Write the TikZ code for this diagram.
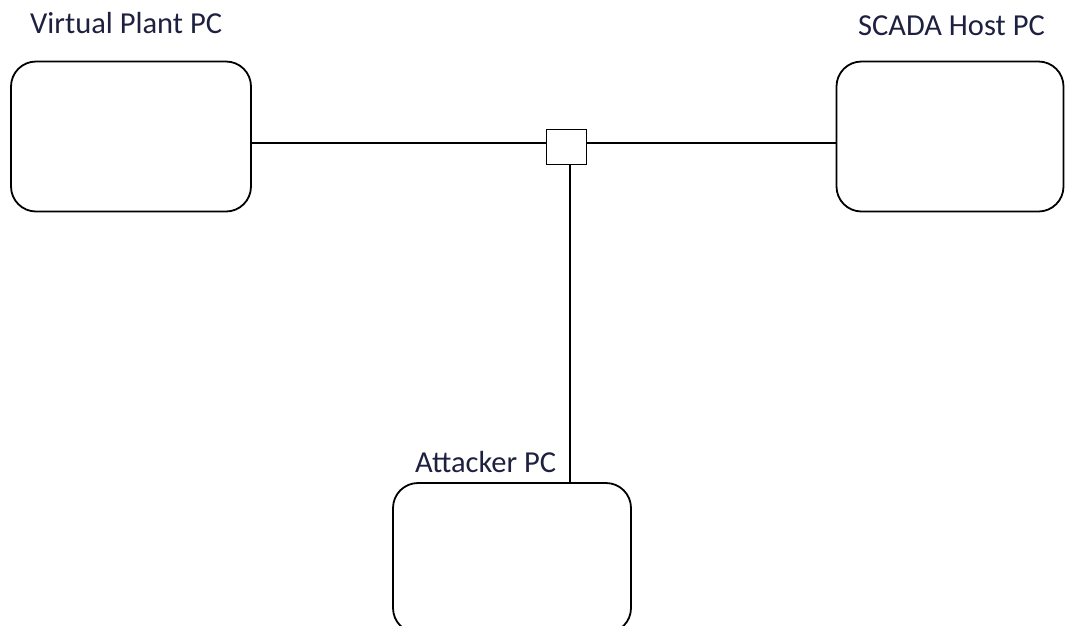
\documentclass[tikz,border=0pt]{standalone}
\usepackage{fontspec}
\setmainfont{Carlito}
\definecolor{txt}{HTML}{1E2040}
\begin{document}
\begin{tikzpicture}[x=1pt,y=-1pt,
  pcbox/.style={draw=black,line width=1.8pt,rounded corners=25pt,minimum width=#1,minimum height=150pt,inner sep=0pt},
  hubbox/.style={draw=black,line width=1.8pt,minimum width=40pt,minimum height=35pt,inner sep=0pt},
  lbl/.style={anchor=base west,inner sep=0pt,text=txt,font=\fontsize{30.5}{36}\selectfont},
  wire/.style={line width=1.8pt}]
\useasboundingbox (0,0) rectangle (1065,625);
\begin{scope}
\clip (0,0) rectangle (1065,625);
\node[pcbox=240pt] (vp) at (131,136.5) {};
\node[pcbox=227pt] (sc) at (950,136.5) {};
\node[pcbox=238pt] (att) at (512,558) {};
\node[hubbox] (sw) at (566.5,147) {};
\coordinate (busy) at (0,143);
\coordinate (vx) at (570,0);
\draw[wire] (vp.east |- busy) -- (sw.west |- busy);
\draw[wire] (sw.east |- busy) -- (sc.west |- busy);
\draw[wire] (sw.south -| vx) -- (att.north -| vx);
\end{scope}
\node[lbl] (lvp) at (30,33) {Virtual Plant PC};
\node[lbl] (lsc) at (858,35) {SCADA Host PC};
\node[lbl] (latt) at (415,472) {Attacker PC};
\end{tikzpicture}
\end{document}
